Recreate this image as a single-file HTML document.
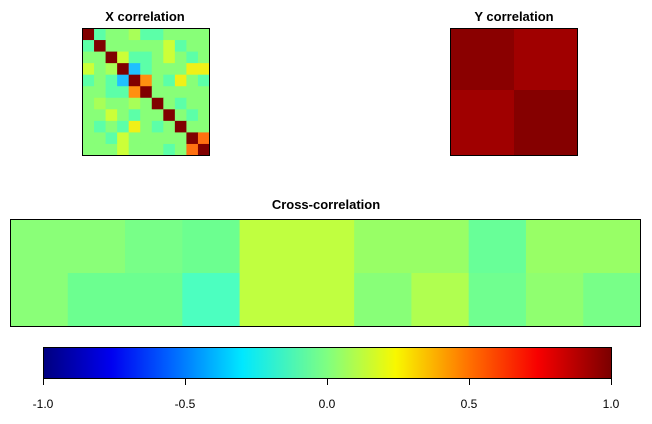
<!DOCTYPE html>
<html><head><meta charset="utf-8"><style>
body{margin:0;background:#fff;width:652px;height:419px;overflow:hidden}
</style></head><body>
<svg width="652" height="419" xmlns="http://www.w3.org/2000/svg" font-family="Liberation Sans, sans-serif">
<defs>
<linearGradient id="jet" x1="0" x2="1" y1="0" y2="0">
<stop offset="0" stop-color="#00007f"/>
<stop offset="0.12" stop-color="#0000f0"/>
<stop offset="0.22" stop-color="#0060ff"/>
<stop offset="0.35" stop-color="#00e8ff"/>
<stop offset="0.5" stop-color="#80ff80"/>
<stop offset="0.62" stop-color="#f8f800"/>
<stop offset="0.75" stop-color="#ff7000"/>
<stop offset="0.87" stop-color="#f80000"/>
<stop offset="1" stop-color="#7a0000"/>
</linearGradient>
</defs>
<g font-weight="bold" font-size="13" text-anchor="middle" fill="#000">
<text x="145" y="21">X correlation</text>
<text x="514" y="21">Y correlation</text>
<text x="326" y="209">Cross-correlation</text>
</g>
<g id="xm"></g>
<rect x="82.5" y="28.5" width="127" height="127" fill="none" stroke="#000"/>
<rect x="450" y="28" width="64" height="62" fill="#8a0000"/>
<rect x="514" y="28" width="64" height="62" fill="#a00000"/>
<rect x="450" y="90" width="64" height="65" fill="#a00000"/>
<rect x="514" y="90" width="64" height="65" fill="#850000"/>
<rect x="450.5" y="28.5" width="127" height="127" fill="none" stroke="#000"/>
<g id="cc"></g>
<rect x="10.5" y="219.5" width="630" height="107" fill="none" stroke="#000"/>
<rect x="43.5" y="347.5" width="568" height="31" fill="url(#jet)" stroke="#000"/>
<g stroke="#000">
<line x1="43.5" y1="378" x2="43.5" y2="385"/><line x1="185.5" y1="378" x2="185.5" y2="385"/>
<line x1="327.5" y1="378" x2="327.5" y2="385"/><line x1="469.5" y1="378" x2="469.5" y2="385"/>
<line x1="611.5" y1="378" x2="611.5" y2="385"/>
</g>
<g font-size="12" text-anchor="middle" fill="#000">
<text x="43" y="408">-1.0</text><text x="185" y="408">-0.5</text><text x="327" y="408">0.0</text>
<text x="469" y="408">0.5</text><text x="611" y="408">1.0</text>
</g>
</svg>
<script>
var C={D:'#800000',t:'#5cffa8',g:'#88ff78',l:'#a8ff58',y:'#ccff38',c:'#20c0ff',o:'#ff9010',Y:'#f0f018',O:'#ff7010'};
var M=["Dtgglttgggg","tDgggggytgg","ggDyttgygtg","yglDctgggYY","tgtcDogtYgt","ggttoDggggg","glgglgDgtgg","ggygtggDgtg","gtgtYgtgDgg","ggtygggggDO","gggygggtgOD"];
var n='http://www.w3.org/2000/svg',w=127/11;
var xm=document.getElementById('xm');
for(var r=0;r<11;r++)for(var c=0;c<11;c++){var e=document.createElementNS(n,'rect');e.setAttribute('x',82.5+c*w);e.setAttribute('y',28.5+r*w);e.setAttribute('width',w+0.5);e.setAttribute('height',w+0.5);e.setAttribute('fill',C[M[r][c]]);xm.appendChild(e);}
var T=['#8aff78','#8aff78','#78ff88','#6cff90','#c0ff40','#c0ff40','#98ff66','#98ff66','#68ff98','#98ff66','#98ff66'];
var B=['#8aff78','#6cff90','#6cff90','#4cffc0','#c0ff40','#c0ff40','#88ff78','#b0ff50','#70ff90','#90ff70','#78ff88'];
var cc=document.getElementById('cc'),cw=630/11;
for(var i=0;i<11;i++){[[T,219.5],[B,273]].forEach(function(p){var e=document.createElementNS(n,'rect');e.setAttribute('x',10.5+i*cw);e.setAttribute('y',p[1]);e.setAttribute('width',cw+0.5);e.setAttribute('height',53.5);e.setAttribute('fill',p[0][i]);cc.appendChild(e);});}
</script>
</body></html>
